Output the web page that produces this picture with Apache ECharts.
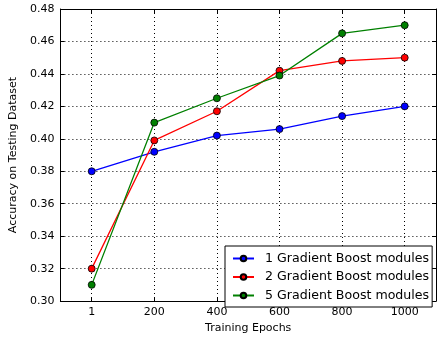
<!DOCTYPE html>
<html><head><meta charset="utf-8">
<script src="https://cdn.jsdelivr.net/npm/echarts@6/dist/echarts.min.js"></script>
<style>html,body{margin:0;padding:0;background:#fff}#c{width:439px;height:339px}</style>
</head><body><div id="c"></div>
<script>
const categories = ['1', '200', '400', '600', '800', '1000'];
const seriesNames = ['1 Gradient Boost modules', '2 Gradient Boost modules', '5 Gradient Boost modules'];
const gb1 = [0.380, 0.392, 0.402, 0.406, 0.414, 0.420];
const gb2 = [0.320, 0.399, 0.417, 0.442, 0.448, 0.450];
const gb5 = [0.310, 0.410, 0.425, 0.439, 0.465, 0.470];
const yTicks = [0.30, 0.32, 0.34, 0.36, 0.38, 0.40, 0.42, 0.44, 0.46, 0.48];

const colors = ['#0000ff', '#ff0000', '#008000'];
const font = 'DejaVu Sans';
const chart = echarts.init(document.getElementById('c'));
function mk(name, data, color) {
  return {
    name, type: 'line', data, symbol: 'circle', symbolSize: 7,
    lineStyle: { color, width: 1.3 },
    itemStyle: { color, borderColor: '#000', borderWidth: 0.8 },
    emphasis: { disabled: true }, animation: false
  };
}
chart.setOption({
  animation: false,
  grid: { left: 52, right: 3, top: 9, bottom: 29, containLabel: false },
  xAxis: [{
    type: 'category', data: categories, boundaryGap: true,
    name: 'Training Epochs', nameLocation: 'middle', nameGap: 20,
    nameTextStyle: { fontFamily: font, fontSize: 11, color: '#000' },
    axisLine: { lineStyle: { color: '#000', width: 1 } },
    axisTick: { show: true, alignWithLabel: true, inside: true, length: 4, lineStyle: { color: '#000' } },
    axisLabel: { fontFamily: font, fontSize: 11, color: '#000', margin: 6 },
    splitLine: { show: true, alignWithLabel: true, lineStyle: { color: '#000', type: [1, 3], width: 1 } }
  }, {
    type: 'category', data: categories, boundaryGap: true, position: 'top',
    axisLine: { lineStyle: { color: '#000', width: 1 } },
    axisTick: { show: true, alignWithLabel: true, inside: true, length: 4, lineStyle: { color: '#000' } },
    axisLabel: { show: false }, splitLine: { show: false }
  }],
  yAxis: [{
    type: 'value', min: 0.30, max: 0.48, interval: 0.02,
    name: 'Accuracy on Testing Dataset', nameLocation: 'middle', nameGap: 37,
    nameTextStyle: { fontFamily: font, fontSize: 11, color: '#000' },
    axisLine: { show: true, lineStyle: { color: '#000', width: 1 } },
    axisTick: { show: true, inside: true, length: 4, lineStyle: { color: '#000' } },
    axisLabel: { fontFamily: font, fontSize: 11, color: '#000', margin: 6,
      formatter: v => v.toFixed(2) },
    splitLine: { show: true, lineStyle: { color: '#000', type: [1, 3], width: 1 } }
  }, {
    type: 'value', min: 0.30, max: 0.48, interval: 0.02, position: 'right',
    axisLine: { show: true, lineStyle: { color: '#000', width: 1 } },
    axisTick: { show: true, inside: true, length: 4, lineStyle: { color: '#000' } },
    axisLabel: { show: false }, splitLine: { show: false }
  }],
  legend: {
    left: 225, top: 246, orient: 'vertical',
    backgroundColor: '#fff',
    borderColor: '#000', borderWidth: 1, borderRadius: 0,
    padding: [6, 3, 5, 7], itemGap: 5.5, itemWidth: 21, itemHeight: 7,
    textStyle: { fontFamily: font, fontSize: 12.6, color: '#000', padding: [0, 0, 0, 6] },
    data: seriesNames
  },
  series: [mk(seriesNames[0], gb1, colors[0]), mk(seriesNames[1], gb2, colors[1]), mk(seriesNames[2], gb5, colors[2])]
});
</script></body></html>
